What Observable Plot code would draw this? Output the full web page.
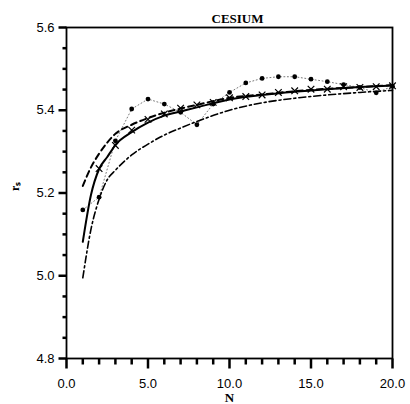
<!DOCTYPE html>
<html><head><meta charset="utf-8">
<script src="https://cdn.jsdelivr.net/npm/d3@7"></script>
<script src="https://cdn.jsdelivr.net/npm/@observablehq/plot@0.6"></script>
<style>
html,body{margin:0;padding:0;background:#fff;}
</style></head><body><div id="chart"></div>
<script>
// Curve samples (N, r_s)
const solidN  = [1, 1.5, 2, 2.5, 3, 4, 5, 6, 7, 8, 10, 12, 14, 16, 18, 20];
const solidY  = [5.082, 5.195, 5.258, 5.287, 5.316, 5.347, 5.370, 5.387, 5.397, 5.407, 5.426, 5.437, 5.445, 5.451, 5.456, 5.460];
const dashN   = [1, 1.5, 2, 2.5, 3, 4, 5, 6, 7, 8, 10, 12, 14, 16, 18, 20];
const dashY   = [5.217, 5.262, 5.295, 5.322, 5.343, 5.365, 5.381, 5.394, 5.404, 5.413, 5.430, 5.438, 5.446, 5.452, 5.456, 5.461];
const dashDotN = [1, 1.5, 2, 2.5, 3, 4, 5, 6, 7, 8, 10, 12, 14, 16, 18, 20];
const dashDotY = [4.995, 5.112, 5.185, 5.232, 5.255, 5.292, 5.318, 5.340, 5.357, 5.373, 5.400, 5.418, 5.429, 5.437, 5.443, 5.448];
// Dotted series with filled dots
const dotN = [1, 2, 3, 4, 5, 6, 7, 8, 9, 10, 11, 12, 13, 14, 15, 16, 17, 18, 19, 20];
const dotY = [5.159, 5.190, 5.326, 5.403, 5.427, 5.415, 5.395, 5.365, 5.415, 5.443, 5.466, 5.477, 5.481, 5.481, 5.475, 5.469, 5.462, 5.455, 5.442, 5.458];
// Cross markers
const crossN = [2, 3, 4, 5, 6, 7, 8, 9, 10, 11, 12, 13, 14, 15, 16, 17, 18, 19, 20];
const crossY = [5.259, 5.315, 5.352, 5.378, 5.391, 5.405, 5.413, 5.419, 5.430, 5.433, 5.437, 5.443, 5.447, 5.451, 5.451, 5.457, 5.455, 5.457, 5.459];
// Ticks
const xMajor = [0, 5, 10, 15, 20];
const xMinor = [1,2,3,4,6,7,8,9,11,12,13,14,16,17,18,19];
const yMajor = [4.8, 5.0, 5.2, 5.4, 5.6];
const yMinor = [4.85,4.9,4.95,5.05,5.1,5.15,5.25,5.3,5.35,5.45,5.5,5.55];
const title = "CESIUM";
const xLabel = "N";
const yLabel = "rₛ";

const pts = (xs, ys) => xs.map((x, i) => ({x, y: ys[i]}));
const serif = "'Liberation Serif', 'Times New Roman', serif";
const sans = "'Liberation Sans', Arial, sans-serif";

const W = 410, H = 404, mL = 66, mR = 18, mT = 27, mB = 46;
const xDom = [0, 20], yDom = [4.8, 5.6];
const pxX = (xDom[1] - xDom[0]) / (W - mL - mR);
const pxY = (yDom[1] - yDom[0]) / (H - mT - mB);
const xTick = (vals, len) => vals.map(v => ({x1: v, x2: v, y1: yDom[0], y2: yDom[0] - len * pxY}));
const yTick = (vals, len) => vals.map(v => ({y1: v, y2: v, x1: xDom[0], x2: xDom[0] - len * pxX}));

const chart = Plot.plot({
  width: W, height: H,
  marginLeft: mL, marginRight: mR, marginTop: mT, marginBottom: mB,
  x: {domain: xDom, axis: null},
  y: {domain: yDom, axis: null},
  marks: [
    // tick marks (outward)
    Plot.link(xTick(xMinor, 6), {x1: "x1", x2: "x2", y1: "y1", y2: "y2", stroke: "black", strokeWidth: 2.5}),
    Plot.link(xTick(xMajor, 10), {x1: "x1", x2: "x2", y1: "y1", y2: "y2", stroke: "black", strokeWidth: 2.5}),
    Plot.link(yTick(yMinor, 4), {x1: "x1", x2: "x2", y1: "y1", y2: "y2", stroke: "black", strokeWidth: 2.5}),
    Plot.link(yTick(yMajor, 8), {x1: "x1", x2: "x2", y1: "y1", y2: "y2", stroke: "black", strokeWidth: 2.5}),
    Plot.frame({stroke: "black", strokeWidth: 1.8}),
    // tick labels
    Plot.text(xMajor, {x: d => d, y: yDom[0], text: d => d.toFixed(1), dy: 25, lineAnchor: "middle", fontFamily: sans, fontSize: 13, fill: "black"}),
    Plot.text(yMajor, {x: xDom[0], y: d => d, text: d => d.toFixed(1), dx: -12, textAnchor: "end", lineAnchor: "middle", fontFamily: sans, fontSize: 13, fill: "black"}),
    // data
    Plot.line(pts(dotN, dotY), {x: "x", y: "y", stroke: "#555", strokeWidth: 0.8, strokeDasharray: "1,2.5"}),
    Plot.line(pts(dashDotN, dashDotY), {x: "x", y: "y", curve: "monotone-x", stroke: "black", strokeWidth: 1.6, strokeDasharray: "7,3,2,3"}),
    Plot.line(pts(dashN, dashY), {x: "x", y: "y", curve: "monotone-x", stroke: "black", strokeWidth: 2, strokeDasharray: "6,4"}),
    Plot.line(pts(solidN, solidY), {x: "x", y: "y", curve: "monotone-x", stroke: "black", strokeWidth: 2}),
    Plot.dot(pts(dotN, dotY), {x: "x", y: "y", r: 2.4, fill: "black", stroke: null}),
    Plot.dot(pts(crossN, crossY), {x: "x", y: "y", symbol: "times", r: 3.1, stroke: "black", strokeWidth: 1.2}),
    Plot.text([title], {frameAnchor: "top", dx: 8, dy: -5, lineAnchor: "bottom", fontFamily: serif, fontWeight: "bold", fontSize: 13, fill: "black"}),
    Plot.text([xLabel], {frameAnchor: "bottom", dy: 39, lineAnchor: "middle", fontFamily: serif, fontWeight: "bold", fontSize: 13, fill: "black"}),
    Plot.text([yLabel], {frameAnchor: "left", dx: -51, dy: -2, rotate: -90, fontFamily: serif, fontWeight: "bold", fontSize: 12, fill: "black"})
  ]
});
document.getElementById("chart").appendChild(chart);
</script>
</body></html>
